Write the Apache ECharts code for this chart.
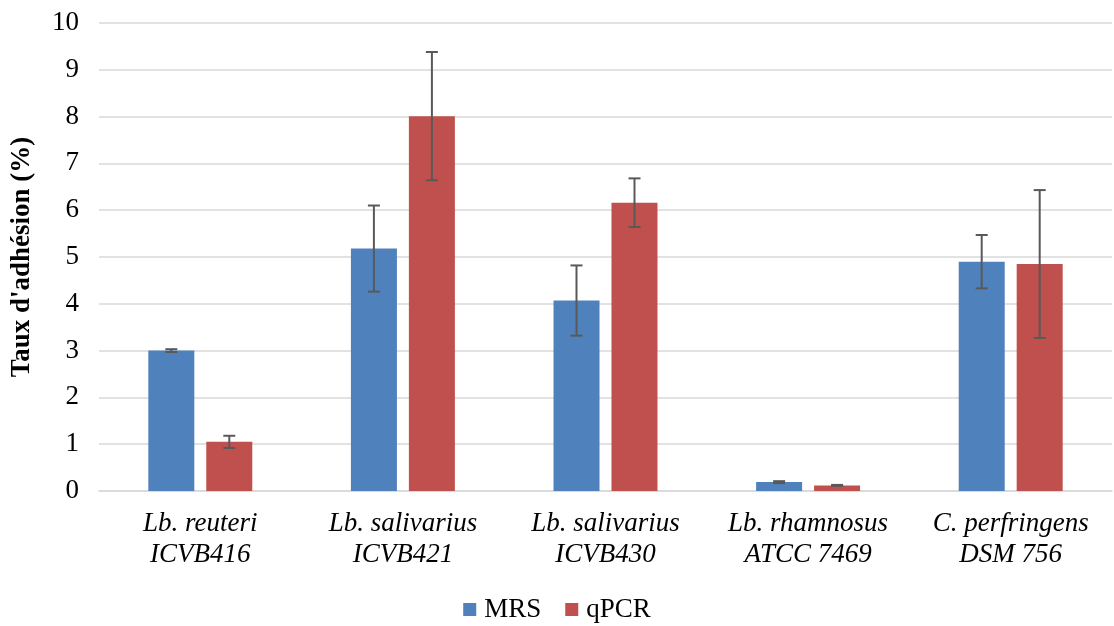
<!DOCTYPE html>
<html>
<head>
<meta charset="utf-8">
<script src="https://cdn.jsdelivr.net/npm/echarts@6/dist/echarts.min.js"></script>
<style>
html, body { margin: 0; padding: 0; background: #fff; }
#main { width: 1114px; height: 626px; }
</style>
</head>
<body>
<div id="main"></div>
<script>
// 数据
var categories = ['{i|Lb. reuteri}\n{i|ICVB416}', '{i|Lb. salivarius}\n{i|ICVB421}', '{i|Lb. salivarius}\n{i|ICVB430}', '{i|Lb. rhamnosus}\n{i|ATCC 7469}', '{i|C. perfringens}\n{i|DSM 756}'];
var mrsValues = [3.0, 5.18, 4.07, 0.19, 4.9];
var mrsErrors = [0.03, 0.92, 0.75, 0.02, 0.57];
var qpcrValues = [1.05, 8.01, 6.16, 0.12, 4.85];
var qpcrErrors = [0.13, 1.37, 0.52, 0.01, 1.58];
var yTicks = [0, 1, 2, 3, 4, 5, 6, 7, 8, 9, 10];

var font = '"Liberation Serif", "Times New Roman", serif';
var fontSize = 27;
var barWidth = 46;
var barGapPx = 12;

function errData(vals, errs) {
	return vals.map(function(v, i) {
		return [i, v - errs[i], v + errs[i]];
	});
}

// 误差线
function errSeries(name, vals, errs, offset) {
	return {
		type: 'custom',
		name: name + '_err',
		z: 10,
		silent: true,
		renderItem: function(params, api) {
			var x = api.coord([api.value(0), 0])[0] + offset;
			var lo = api.coord([api.value(0), api.value(1)])[1];
			var hi = api.coord([api.value(0), api.value(2)])[1];
			var cap = 6;
			var style = { stroke: '#595959', lineWidth: 2 };
			return {
				type: 'group',
				children: [
					{ type: 'line', shape: { x1: x, y1: lo, x2: x, y2: hi }, style: style },
					{ type: 'line', shape: { x1: x - cap, y1: lo, x2: x + cap, y2: lo }, style: style },
					{ type: 'line', shape: { x1: x - cap, y1: hi, x2: x + cap, y2: hi }, style: style }
				]
			};
		},
		encode: { x: 0, y: [1, 2] },
		data: errData(vals, errs)
	};
}

var chart = echarts.init(document.getElementById('main'));
var half = (barWidth + barGapPx) / 2;

var option = {
	backgroundColor: '#fff',
	animation: false,
	grid: { left: 99, right: 2, top: 23, bottom: 135 },
	legend: {
		data: ['MRS', 'qPCR'],
		bottom: -2,
		left: 'center',
		icon: 'rect',
		itemWidth: 13,
		itemHeight: 13,
		itemGap: 24,
		textStyle: { fontFamily: font, fontSize: fontSize, color: '#000', padding: [0, 0, 0, 3] }
	},
	xAxis: {
		type: 'category',
		data: categories,
		axisLine: { lineStyle: { color: '#D9D9D9', width: 1.5 } },
		axisTick: { show: false },
		axisLabel: {
			margin: 17,
			interval: 0,
			rich: {
				i: { fontFamily: font, fontStyle: 'italic', fontSize: fontSize, color: '#000', lineHeight: 31 }
			}
		}
	},
	yAxis: {
		type: 'value',
		min: yTicks[0],
		max: yTicks[yTicks.length - 1],
		interval: 1,
		name: "Taux d'adhésion (%)",
		nameLocation: 'middle',
		nameGap: 63,
		nameRotate: 90,
		nameTextStyle: { fontFamily: font, fontSize: fontSize, fontWeight: 'bold', color: '#000' },
		axisLine: { show: false },
		axisTick: { show: false },
		axisLabel: { fontFamily: font, fontSize: fontSize, color: '#000', margin: 20 },
		splitLine: { lineStyle: { color: '#D9D9D9', width: 1.5 } }
	},
	series: [
		{
			name: 'MRS',
			type: 'bar',
			data: mrsValues,
			barWidth: barWidth,
			barGap: (barGapPx / barWidth * 100).toFixed(0) + '%',
			itemStyle: { color: '#4F81BD' }
		},
		{
			name: 'qPCR',
			type: 'bar',
			data: qpcrValues,
			barWidth: barWidth,
			itemStyle: { color: '#C0504D' }
		},
		errSeries('MRS', mrsValues, mrsErrors, -half),
		errSeries('qPCR', qpcrValues, qpcrErrors, half)
	]
};

chart.setOption(option);
window.onresize = function() {
	chart.resize();
};
</script>
</body>
</html>
